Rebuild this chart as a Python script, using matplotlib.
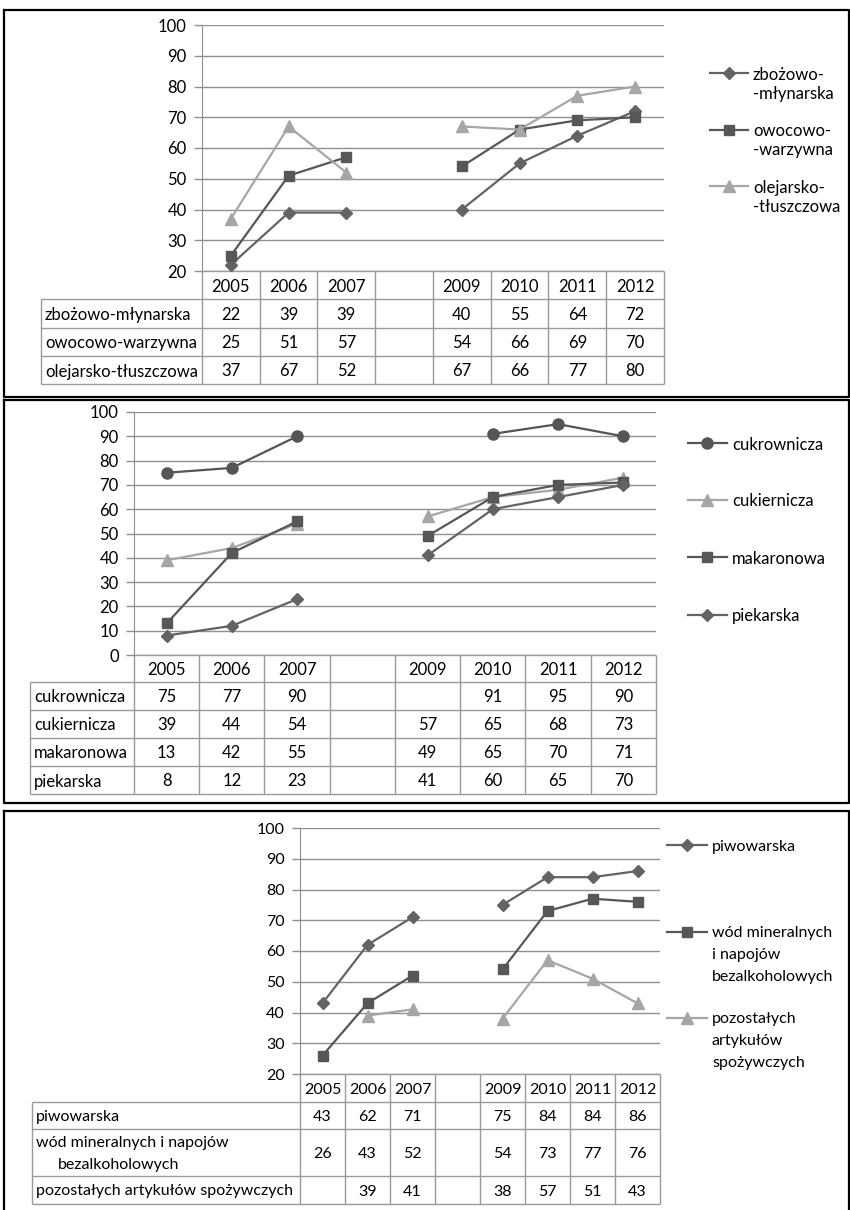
import numpy as np
import matplotlib
matplotlib.use("Agg")
import matplotlib.pyplot as plt

plt.rcParams['font.family'] = ['Lato', 'DejaVu Sans']

nan = np.nan
years = ['2005', '2006', '2007', '', '2009', '2010', '2011', '2012']

# --- panel 1: przetwórstwo zbożowe, owocowe, tłuszczowe
p1_names = ['zbożowo-młynarska', 'owocowo-warzywna', 'olejarsko-tłuszczowa']
p1_legend = ['zbożowo-\n-młynarska', 'owocowo-\n-warzywna', 'olejarsko-\n-tłuszczowa']
zbozowo_mlynarska = [22, 39, 39, nan, 40, 55, 64, 72]
owocowo_warzywna = [25, 51, 57, nan, 54, 66, 69, 70]
olejarsko_tluszczowa = [37, 67, 52, nan, 67, 66, 77, 80]

# --- panel 2
p2_names = ['cukrownicza', 'cukiernicza', 'makaronowa', 'piekarska']
p2_legend = p2_names
cukrownicza = [75, 77, 90, nan, nan, 91, 95, 90]
cukiernicza = [39, 44, 54, nan, 57, 65, 68, 73]
makaronowa = [13, 42, 55, nan, 49, 65, 70, 71]
piekarska = [8, 12, 23, nan, 41, 60, 65, 70]

# --- panel 3
p3_names = ['piwowarska', 'wód mineralnych i napojów\nbezalkoholowych',
            'pozostałych artykułów spożywczych']
p3_legend = ['piwowarska', 'wód mineralnych\ni napojów\nbezalkoholowych',
             'pozostałych\nartykułów\nspożywczych']
piwowarska = [43, 62, 71, nan, 75, 84, 84, 86]
wod_mineralnych = [26, 43, 52, nan, 54, 73, 77, 76]
pozostalych = [nan, 39, 41, nan, 38, 57, 51, 43]

W, H = 850, 1210
GRID = '#8f8f8f'
TAB = '#9a9a9a'
DIAMOND = dict(color='#636363', marker='D', ms=6.5)
SQUARE = dict(color='#575757', marker='s', ms=7.5)
TRIANGLE = dict(color='#a6a6a6', marker='^', ms=8.5)
CIRCLE = dict(color='#555555', marker='o', ms=8)

panels = [
    dict(frame=(4, 10, 849, 397), ax_x=202, right=664, y_top=25, y_bot=271, ymin=20,
         left=41, rows=[299, 327.5, 356, 384], fs=12,
         series=[zbozowo_mlynarska, owocowo_warzywna, olejarsko_tluszczowa],
         styles=[DIAMOND, SQUARE, TRIANGLE], names=p1_names, legend=p1_legend,
         leg_x=(710, 748, 753), leg_y=[73, 130, 186], leg_ls=19),
    dict(frame=(4, 400, 849, 803), ax_x=134, right=656, y_top=412, y_bot=655, ymin=0,
         left=30, rows=[682, 710, 738, 766, 794], fs=12,
         series=[cukrownicza, cukiernicza, makaronowa, piekarska],
         styles=[CIRCLE, TRIANGLE, SQUARE, DIAMOND], names=p2_names, legend=p2_legend,
         leg_x=(688, 727, 732), leg_y=[443, 500, 557, 615], leg_ls=21),
    dict(frame=(4, 811, 849, 1216), ax_x=300, right=660, y_top=828, y_bot=1074, ymin=20,
         left=32, rows=[1102, 1129, 1176, 1204], fs=11.5,
         series=[piwowarska, wod_mineralnych, pozostalych],
         styles=[DIAMOND, SQUARE, TRIANGLE], names=p3_names, legend=p3_legend,
         leg_x=(667, 707, 712), leg_y=[845, 932, 1018], leg_ls=22),
]

fig = plt.figure(figsize=(W / 100, H / 100), dpi=100)
fig.patch.set_facecolor('white')

# overlay in pixel coordinates for frames, tables and legends
ov = fig.add_axes([0, 0, 1, 1], zorder=0)
ov.set_xlim(0, W)
ov.set_ylim(H, 0)
ov.axis('off')


def hline(x0, x1, y, **kw):
    ov.plot([x0, x1], [y, y], solid_capstyle='butt', **kw)


def vline(x, y0, y1, **kw):
    ov.plot([x, x], [y0, y1], solid_capstyle='butt', **kw)


for p in panels:
    fs = p['fs']
    # panel frame
    x0, y0, x1, y1 = p['frame']
    ov.plot([x0, x1, x1, x0, x0], [y0, y0, y1, y1, y0], color='black', lw=1.6)

    # chart area
    ax = fig.add_axes([p['ax_x'] / W, 1 - p['y_bot'] / H,
                       (p['right'] - p['ax_x']) / W, (p['y_bot'] - p['y_top']) / H],
                      zorder=2)
    ax.set_facecolor('none')
    ax.set_xlim(-0.5, len(years) - 0.5)
    ax.set_ylim(p['ymin'], 100)
    ax.set_yticks(np.arange(p['ymin'], 101, 10))
    ax.set_xticks([])
    ax.yaxis.grid(True, color=GRID, lw=1)
    ax.set_axisbelow(True)
    for s in ['top', 'right', 'bottom']:
        ax.spines[s].set_visible(False)
    ax.spines['left'].set_color(GRID)
    ax.tick_params(axis='y', length=6, width=1, color=GRID, labelsize=fs, pad=5)
    xs = np.arange(len(years))
    for vals, st in zip(p['series'], p['styles']):
        ax.plot(xs, vals, color=st['color'], lw=1.6, marker=st['marker'],
                ms=st['ms'], mfc=st['color'], mec=st['color'], clip_on=False)

    # data table
    n = len(years)
    cw = (p['right'] - p['ax_x']) / n
    cols = [p['ax_x'] + i * cw for i in range(n + 1)]
    htop = p['y_bot']
    rows = p['rows']
    right = cols[-1]
    hline(cols[0], right, htop, color=TAB, lw=1)
    for i, lab in enumerate(years):
        ov.text((cols[i] + cols[i + 1]) / 2, (htop + rows[0]) / 2, lab,
                ha='center', va='center_baseline', fontsize=fs)
    for y in rows:
        hline(p['left'], right, y, color=TAB, lw=1)
    for x in cols:
        vline(x, htop, rows[-1], color=TAB, lw=1)
    vline(p['left'], rows[0], rows[-1], color=TAB, lw=1)
    for r, (name, vals) in enumerate(zip(p['names'], p['series'])):
        yc = (rows[r] + rows[r + 1]) / 2
        parts = name.split('\n')
        lh = 22
        for k, part in enumerate(parts):
            yy = yc + (k - (len(parts) - 1) / 2) * lh
            ov.text(p['left'] + 4 + (22 if k > 0 else 0), yy, part,
                    ha='left', va='center_baseline', fontsize=fs)
        for i, v in enumerate(vals):
            if not np.isnan(v):
                ov.text((cols[i] + cols[i + 1]) / 2, yc, f'{v:g}',
                        ha='center', va='center_baseline', fontsize=fs)

    # legend
    hx0, hx1, tx = p['leg_x']
    for lab, st, y in zip(p['legend'], p['styles'], p['leg_y']):
        ov.plot([hx0, hx1], [y, y], color=st['color'], lw=1.6)
        ov.plot([(hx0 + hx1) / 2], [y], marker=st['marker'], ms=st['ms'],
                color=st['color'], mec=st['color'])
        for k, part in enumerate(lab.split('\n')):
            ov.text(tx, y + k * p['leg_ls'], part, ha='left', va='center_baseline',
                    fontsize=fs)

fig.savefig('out.png', dpi=100, facecolor='white')
